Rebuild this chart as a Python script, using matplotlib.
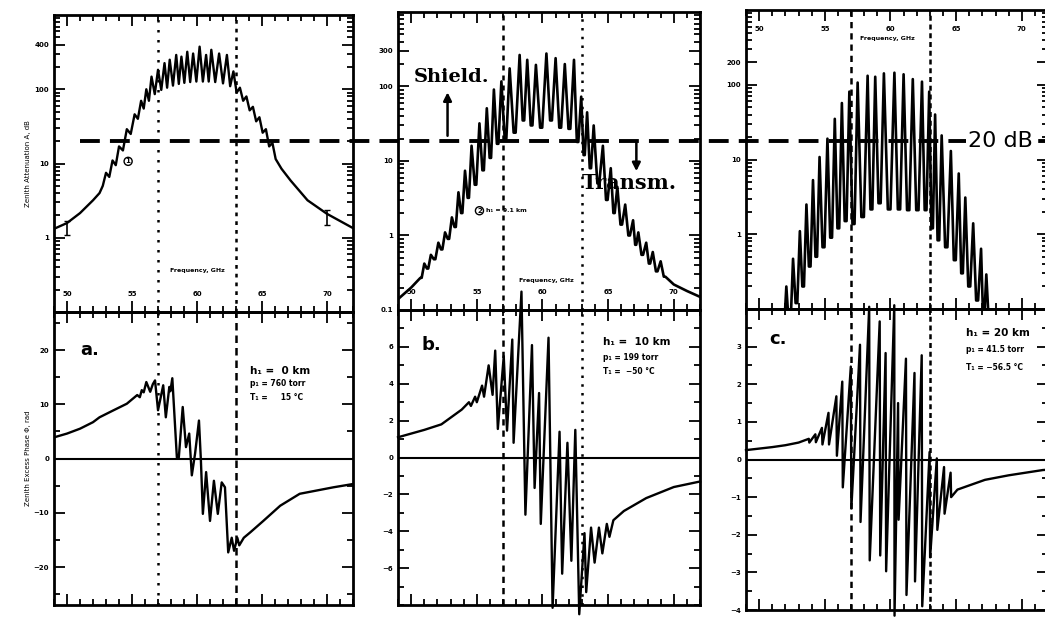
import numpy as np, matplotlib; matplotlib.use("Agg")
import matplotlib.pyplot as plt
from matplotlib.ticker import MultipleLocator, LogLocator, NullFormatter
from matplotlib.lines import Line2D
import matplotlib.transforms as mtransforms

plt.rcParams["font.family"] = ["DejaVu Sans"]
plt.rcParams["font.weight"] = "bold"

# ---- panel a, attenuation (sea level): spikes ----
a_line_ghz = [53.0, 53.5, 54.0, 54.6, 55.2, 55.7, 56.1, 56.5, 57.0, 57.5, 57.9, 58.4, 58.8, 59.25,
              59.7, 60.2, 60.7, 61.1, 61.7, 62.3, 62.8, 63.3, 63.8, 64.3, 64.8, 65.3, 65.8]
a_peak_db = [7.5, 11, 17, 29, 46, 70, 100, 148, 183, 225, 250, 290, 275, 320,
             303, 375, 290, 340, 303, 290, 174, 105, 80, 58, 42, 29, 19]
a_valley_db = [5.0, 6.6, 9.5, 15, 25, 40, 55, 70, 86, 98, 105, 112, 118, 122,
               125, 127, 127, 127, 125, 120, 110, 90, 70, 52, 37, 26, 17, 11.5]
a_left_ghz, a_left_db = [49.0, 50.0, 51.0, 52.0, 52.5], [1.32, 1.58, 2.15, 3.2, 4.0]
a_right_ghz, a_right_db = [66.5, 67.2, 68.5, 70.0, 72.0], [8.5, 5.9, 3.2, 2.1, 1.35]
a_meas_ghz, a_meas_db = [50.0, 70.0], [1.35, 1.9]
a_meas_err = [[0.25, 0.4], [0.35, 0.45]]

# ---- panels b, c share the line positions ----
line_ghz = [51.0, 51.5, 52.07, 52.58, 53.1, 53.6, 54.1, 54.6, 55.2, 55.76, 56.3, 56.87, 57.5, 58.26,
            58.84, 59.5, 60.3, 61.0, 61.7, 62.4, 62.95, 63.4, 63.9, 64.6, 65.2, 65.7, 66.3, 66.9,
            67.3, 67.9, 68.4, 69.0]
b_peak_db = [0.42, 0.55, 0.8, 1.1, 1.75, 3.8, 7.4, 16, 32, 51, 91, 117, 175, 265, 228, 195, 277, 240,
             200, 228, 73, 45, 30, 16, 8, 4.5, 2.6, 1.6, 1.1, 0.8, 0.6, 0.45]
b_valley_db = [0.27, 0.36, 0.48, 0.65, 0.9, 1.3, 2.0, 3.2, 4.8, 7.5, 11, 17, 20, 24, 35, 30, 28, 35,
               28, 27, 18, 12, 8, 5, 3.0, 2.0, 1.4, 1.0, 0.75, 0.55, 0.42, 0.33, 0.28]
b_left_ghz, b_left_db = [49.0, 50.0], [0.14, 0.2]
b_right_ghz, b_right_db = [70.0, 71.0, 72.0], [0.22, 0.18, 0.15]

c_peak_db = [0.05, 0.07, 0.2, 0.47, 1.1, 2.5, 5.3, 10.8, 19, 35, 57, 81, 107, 132, 128, 142, 145, 138,
             119, 110, 81, 40, 21, 13, 6.5, 3.1, 1.4, 0.64, 0.29, 0.09, 0.06, 0.05]
c_valley_db = [0.03, 0.03, 0.04, 0.06, 0.12, 0.2, 0.37, 0.5, 0.67, 0.9, 1.2, 1.5, 1.37, 1.7, 2.15, 2.6,
               2.15, 2.15, 2.1, 2.1, 2.1, 1.2, 0.83, 0.67, 0.45, 0.3, 0.2, 0.13, 0.08, 0.05, 0.04,
               0.03, 0.03]
c_left_ghz, c_left_db = [49.0], [0.02]
c_right_ghz, c_right_db = [72.0], [0.02]

# ---- excess phase traces (rad) ----
a_ph_ghz = [49.0, 50.0, 51.0, 52.0, 52.5, 53.5, 54.6, 55.4, 55.6, 55.75, 55.9, 56.1, 56.4, 56.6, 56.77,
            57.0, 57.4, 57.6, 57.87, 57.95, 58.1, 58.45, 58.6, 58.9, 59.15, 59.4, 59.6, 59.85, 60.15,
            60.3, 60.45, 60.7, 61.0, 61.3, 61.6, 61.9, 62.15, 62.4, 62.67, 62.85, 63.1, 63.25, 63.45,
            63.6, 64.1, 65.1, 66.4, 67.9, 70.5, 72.0]
a_ph_rad = [3.9, 4.6, 5.5, 6.7, 7.6, 8.8, 10.1, 11.7, 11.3, 12.6, 12.2, 14.1, 12.3, 13.7, 14.4,
            8.9, 13.5, 7.6, 13.2, 12.4, 14.8, 0.2, 0.2, 9.5, 2.1, 4.6, -3.1, 0.9, 7.0,
            -0.4, -10.2, -2.5, -11.5, -4.1, -10.2, -4.4, -5.3, -17.3, -14.6, -17.0, -14.6, -16.0, -15.2,
            -14.6, -13.6, -11.5, -8.7, -6.5, -5.3, -4.7]
b_ph_ghz = [49.0, 50.0, 51.0, 52.3, 53.85, 54.4, 54.55, 54.87, 55.0, 55.4, 55.55, 55.9, 56.2, 56.4,
            56.6, 57.05, 57.3, 57.7, 57.8, 58.4, 58.7, 59.2, 59.4, 59.74, 59.87, 60.46, 60.77, 61.3,
            61.5, 61.9, 62.2, 62.5, 62.8, 63.2, 63.33, 63.7, 63.97, 64.3, 64.56, 64.9, 65.1, 65.4,
            66.2, 67.9, 70.0, 72.0]
b_ph_rad = [1.1, 1.3, 1.5, 1.8, 2.6, 3.0, 2.8, 3.3, 3.0, 3.9, 3.3, 5.0, 3.4, 5.8,
            1.55, 5.5, 1.46, 6.4, 0.8, 9.0, -3.1, 6.1, -1.65, 3.5, -3.6, 6.5, -8.15, 1.4,
            -6.3, 0.8, -5.6, 1.5, -8.5, -4.1, -7.3, -3.8, -5.7, -3.8, -5.2, -3.6, -4.3, -3.4,
            -2.9, -2.2, -1.6, -1.3]
c_ph_ghz = [49.0, 51.0, 52.0, 53.0, 53.78, 53.82, 54.28, 54.32, 54.78, 54.82, 55.28, 55.32, 55.88, 55.92,
            56.33, 56.37, 56.98, 57.02, 57.68, 57.72, 58.38, 58.42, 59.18, 59.22, 59.63, 59.67, 60.29,
            60.31, 60.58, 60.62, 61.18, 61.22, 61.83, 61.87, 62.38, 62.42, 62.98, 63.02, 63.53, 63.57,
            64.08, 64.12, 64.58, 64.62, 65.1, 65.5, 67.2, 69.0, 71.6, 72.0]
c_ph_rad = [0.25, 0.33, 0.38, 0.45, 0.55, 0.45, 0.67, 0.46, 0.84, 0.4, 1.24, 0.4, 1.68, 0.1,
            2.07, -0.74, 2.47, -1.3, 3.05, -1.66, 4.06, -2.68, 3.67, -2.55, 2.83, -2.97, 4.1,
            -4.15, 1.5, -1.6, 2.68, -3.6, 2.3, -3.24, 2.77, -3.9, 0.2, -2.6, 0.03, -1.87,
            -0.2, -1.44, -0.35, -1.0, -0.8, -0.75, -0.54, -0.42, -0.28, -0.27]

site_text = [["h\u2081 =  0 km", "p\u2081 = 760 torr", "T\u2081 =     15 \u00b0C"],
             ["h\u2081 =  10 km", "p\u2081 = 199 torr", "T\u2081 =  \u221250 \u00b0C"],
             ["h\u2081 = 20 km", "p\u2081 = 41.5 torr", "T\u2081 = \u221256.5 \u00b0C"]]


def spike_path(lines, peaks, valleys, flat):
    lines = np.asarray(lines, float)
    g = np.diff(lines)
    edges = np.concatenate([[lines[0] - g[0]], lines, [lines[-1] + g[-1]]])
    xs, ys = [], []
    for i, v in enumerate(valleys):
        mid = (edges[i] + edges[i + 1]) / 2
        half = (edges[i + 1] - edges[i]) / 2 * flat
        xs += [mid - half, mid + half]; ys += [v, v]
        if i < len(lines):
            xs.append(lines[i]); ys.append(peaks[i])
    return xs, ys


def frame(ax):
    ax.set_facecolor("none")
    for s in ax.spines.values():
        s.set_linewidth(2)
    ax.tick_params(which="both", direction="in", top=True, right=True, width=1.3, labelsize=5)
    ax.tick_params(which="major", length=8)
    ax.tick_params(which="minor", length=4)
    ax.set_xlim(49, 72)
    ax.set_xticks([50, 55, 60, 65, 70])
    ax.xaxis.set_minor_locator(MultipleLocator(1))


fig = plt.figure(figsize=(10.45, 6.18), dpi=100)
top_pos = [[0.0517, 0.4951, 0.2861, 0.4806], [0.3809, 0.4984, 0.2890, 0.4822], [0.7139, 0.5000, 0.2890, 0.4838]]
bot_pos = [[0.0517, 0.0210, 0.2861, 0.4741], [0.3809, 0.0210, 0.2890, 0.4773], [0.7139, 0.0129, 0.2890, 0.4871]]
tops = [fig.add_axes(p) for p in top_pos]
bots = [fig.add_axes(p) for p in bot_pos]

att = [(a_left_ghz, a_right_ghz, a_left_db, a_right_db, spike_path(a_line_ghz, a_peak_db, a_valley_db, 0.0)),
       (b_left_ghz, b_right_ghz, b_left_db, b_right_db, spike_path(line_ghz, b_peak_db, b_valley_db, 0.2)),
       (c_left_ghz, c_right_ghz, c_left_db, c_right_db, spike_path(line_ghz, c_peak_db, c_valley_db, 0.25))]
ytick_sets = [([0.1, 1, 10, 100, 400], ["", "1", "10", "100", "400"]),
              ([0.1, 1, 10, 100, 300], ["0.1", "1", "10", "100", "300"]),
              ([1, 10, 100, 200], ["1", "10", "100", "200"])]
vl_top = [[(0, (1, 3)), (0, (1.5, 2))], [(0, (2, 2)), (0, (1, 2.5))], [(0, (2.5, 2)), (0, (2, 1.5))]]
vl_bot = [[(0, (1, 3)), (0, (3, 2))], [(0, (2.5, 2)), (0, (1, 2.5))], [(0, (2.5, 2)), (0, (2, 1.5))]]
freq_lab = [(60.0, 0.14), (60.3, 0.10), (59.8, 0.905)]

for k, ax in enumerate(tops):
    lg, rg, ld, rd, (xs, ys) = att[k]
    frame(ax)
    ax.set_yscale("log")
    ax.set_ylim(0.1, 1000)
    ax.set_yticks(ytick_sets[k][0], ytick_sets[k][1])
    ax.yaxis.set_minor_locator(LogLocator(subs=range(2, 10)))
    ax.yaxis.set_minor_formatter(NullFormatter())
    ax.plot(lg + xs + rg, ld + ys + rd, color="k", lw=1.7 if k == 0 else 1.9)
    for f, ls in zip([57.0, 63.0], vl_top[k]):
        ax.axvline(f, color="k", ls=ls, lw=1.8)
    tr = mtransforms.blended_transform_factory(ax.transData, ax.transAxes)
    ax.text(freq_lab[k][0], freq_lab[k][1], "Frequency, GHz", transform=tr, fontsize=4.5, ha="center", va="center")
    if k < 2:
        ax.tick_params(axis="x", pad=-15)
    else:
        ax.tick_params(axis="x", labeltop=True, labelbottom=False, pad=-16)

ph = [(a_ph_ghz, a_ph_rad), (b_ph_ghz, b_ph_rad), (c_ph_ghz, c_ph_rad)]
ph_lim = [(-27, 27), (-8, 8), (-4, 4)]
ph_ticks = [[-20, -10, 0, 10, 20], [-6, -4, -2, 0, 2, 4, 6], [-4, -3, -2, -1, 0, 1, 2, 3]]
ph_minor = [5, 1, 0.5]
letters = ["a.", "b.", "c."]
let_pos = [(0.12, 0.87), (0.11, 0.88), (0.107, 0.9)]
info_pos = [(0.655, [0.80, 0.755, 0.707]), (0.68, [0.89, 0.84, 0.79]), (0.73, [0.92, 0.866, 0.805])]
for k, ax in enumerate(bots):
    frame(ax)
    ax.set_ylim(*ph_lim[k])
    ax.set_yticks(ph_ticks[k])
    ax.yaxis.set_minor_locator(MultipleLocator(ph_minor[k]))
    ax.tick_params(axis="x", labelbottom=False)
    ax.axhline(0, color="k", lw=1.5)
    ax.plot(*ph[k], color="k", lw=1.7, clip_on=(k == 0))
    for f, ls in zip([57.0, 63.0], vl_bot[k]):
        ax.axvline(f, color="k", ls=ls, lw=1.8)
    ax.text(*let_pos[k], letters[k], transform=ax.transAxes, fontsize=13, ha="center", va="center")
    x0, yy = info_pos[k]
    for j, (s, y) in enumerate(zip(site_text[k], yy)):
        ax.text(x0, y, s, transform=ax.transAxes, fontsize=7.5 if j == 0 else 5.5, va="center")

# labels and annotations
tops[0].set_ylabel("Zenith Attenuation A, dB", fontsize=5)
tops[0].yaxis.set_label_coords(-0.077, 0.5)
bots[0].set_ylabel("Zenith Excess Phase \u03a6, rad", fontsize=5)
bots[0].yaxis.set_label_coords(-0.077, 0.5)
tops[0].errorbar(a_meas_ghz, a_meas_db, yerr=a_meas_err, fmt="none", ecolor="k", capsize=2, lw=1.2)
circ = dict(boxstyle="circle,pad=0.15", fc="white", ec="k", lw=1)
tops[0].text(54.7, 10.7, "1", fontsize=5, ha="center", va="center", bbox=circ)
tops[1].text(55.2, 2.15, "2", fontsize=5, ha="center", va="center", bbox=circ)
tops[1].text(55.7, 2.15, "h\u2081 = 9.1 km", fontsize=4.5, va="center")

tops[1].annotate("", xy=(52.77, 91), xytext=(52.77, 20),
                 arrowprops=dict(arrowstyle="-|>", lw=1.8, color="k", mutation_scale=12))
tops[1].annotate("", xy=(67.15, 6.7), xytext=(67.15, 20),
                 arrowprops=dict(arrowstyle="-|>", lw=1.8, color="k", mutation_scale=12))
tops[1].text(53.1, 135, "Shield.", fontsize=14, family="DejaVu Serif", ha="center", va="center")
tops[1].text(66.6, 5.1, "Transm.", fontsize=15, family="DejaVu Serif", ha="center", va="center")

blend = mtransforms.blended_transform_factory(fig.transFigure, tops[0].transData)
fig.add_artist(Line2D([0.0766, 1.0], [20, 20], transform=blend, color="k", lw=2.8,
                      ls=(0, (5.1, 2.6)), zorder=5))
fig.text(0.957, 0.772, "20 dB", fontsize=16, fontweight="normal", ha="center", va="center", zorder=6,
         bbox=dict(fc="white", ec="none", pad=1))

fig.savefig("out.png", dpi=100)
